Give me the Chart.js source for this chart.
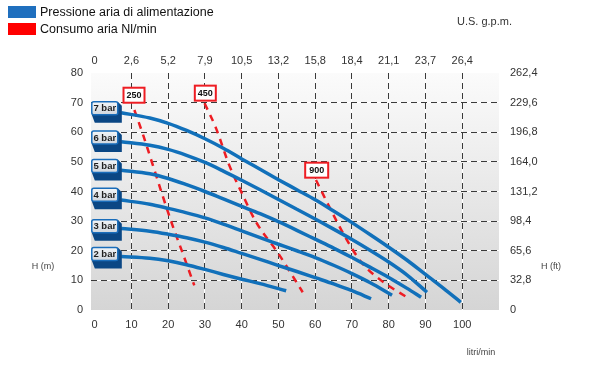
<!DOCTYPE html>
<html>
<head>
<meta charset="utf-8">
<script src="https://cdn.jsdelivr.net/npm/chart.js@4.4.1/dist/chart.umd.min.js"></script>
<style>
  body { margin: 0; background: #fff; }
</style>
</head>
<body>
<canvas id="pumpChart" width="600" height="390"></canvas>
<script>
// axis ticks
const flowTicks = [0, 10, 20, 30, 40, 50, 60, 70, 80, 90, 100];
const gpmLabels = ['0', '2,6', '5,2', '7,9', '10,5', '13,2', '15,8', '18,4', '21,1', '23,7', '26,4'];
const headTicks = [0, 10, 20, 30, 40, 50, 60, 70, 80];
const feetLabels = ['0', '32,8', '65,6', '98,4', '131,2', '164,0', '196,8', '229,6', '262,4'];

// pressure curves (litri/min -> H m)
const bar7Flow = [7.2, 15, 20, 25, 30, 35, 40, 45, 50, 55, 60, 65, 70, 75, 80, 85, 90, 95, 99.6];
const bar7Head = [66.6, 64.8, 63.0, 60.6, 57.8, 54.6, 51.0, 47.5, 44.0, 40.6, 37.2, 33.4, 29.5, 25.4, 21.2, 16.8, 12.0, 7.2, 2.6];
const bar6Flow = [7.2, 15, 20, 25, 30, 35, 40, 45, 50, 55, 60, 65, 70, 75, 80, 85, 90.4];
const bar6Head = [56.8, 55.6, 54.2, 52.2, 49.8, 46.9, 43.8, 40.6, 37.3, 34.0, 30.7, 27.3, 23.8, 20.1, 16.2, 11.8, 6.0];
const bar5Flow = [7.2, 15, 20, 25, 30, 35, 40, 45, 50, 55, 60, 65, 70, 75, 80, 85, 88.8];
const bar5Head = [47.2, 46.0, 44.4, 42.3, 40.0, 37.5, 35.0, 32.5, 29.8, 26.9, 23.9, 20.9, 17.7, 14.4, 11.0, 7.3, 4.3];
const bar4Flow = [7.2, 15, 20, 25, 30, 35, 40, 45, 50, 55, 60, 65, 70, 75, 80.9];
const bar4Head = [37.1, 35.7, 34.3, 32.8, 31.1, 29.0, 26.7, 24.4, 22.2, 20.0, 17.7, 15.1, 12.3, 9.2, 5.0];
const bar3Flow = [7.2, 15, 20, 25, 30, 35, 40, 45, 50, 55, 60, 65, 70, 75.2];
const bar3Head = [27.5, 26.6, 25.6, 24.4, 22.9, 21.1, 19.1, 17.1, 15.0, 13.0, 10.9, 8.8, 6.5, 3.8];
const bar2Flow = [7.2, 15, 20, 25, 30, 35, 40, 45, 52.1];
const bar2Head = [18.1, 17.5, 16.6, 15.3, 13.7, 12.0, 10.4, 8.9, 6.5];

// air consumption curves (Nl/min)
const air250Flow = [10.8, 13.2, 15.8, 18.5, 21.2, 24.0, 27.1];
const air250Head = [67.5, 59.0, 49.0, 38.5, 28.5, 19.0, 8.3];
const air450Flow = [29.9, 33.0, 36.6, 40.3, 43.9, 50.0, 56.6];
const air450Head = [69.8, 61.4, 48.9, 38.8, 29.7, 19.0, 6.0];
const air900Flow = [60.2, 64.3, 68.4, 72.5, 77.9, 85.6];
const air900Head = [43.9, 33.7, 24.1, 16.2, 10.0, 3.8];

// tags
const barNames = ['7 bar', '6 bar', '5 bar', '4 bar', '3 bar', '2 bar'];
const barTagFlow = 2.75;
const barTagHead = [68.1, 58.2, 48.6, 38.9, 28.3, 18.9];
const airNames = ['250', '450', '900'];
const airTagFlow = [10.7, 30.1, 60.4];
const airTagHead = [72.5, 73.2, 47.2];

const BLUE = '#1170ba';
const RED = '#ee1d23';
const FONT = '"Liberation Sans", Arial, sans-serif';

function points(xs, ys) {
    return xs.map((v, i) => ({ x: v, y: ys[i] }));
}

function pressureSet(xs, ys) {
    return {
        data: points(xs, ys),
        showLine: true,
        borderColor: BLUE,
        borderWidth: 3.5,
        pointRadius: 0,
        cubicInterpolationMode: 'monotone',
        borderCapStyle: 'butt'
    };
}

function airSet(xs, ys) {
    return {
        data: points(xs, ys),
        showLine: true,
        borderColor: RED,
        borderWidth: 2.5,
        borderDash: [7, 6],
        pointRadius: 0,
        cubicInterpolationMode: 'monotone'
    };
}

// gradient plot background
const plotBackground = {
    id: 'plotBackground',
    beforeDraw(chart) {
        const { ctx, chartArea: a } = chart;
        const g = ctx.createLinearGradient(0, a.top, 0, a.bottom);
        g.addColorStop(0, '#fbfbfb');
        g.addColorStop(1, '#d5d5d5');
        ctx.save();
        ctx.fillStyle = g;
        ctx.fillRect(a.left, a.top, a.width, a.height);
        ctx.restore();
    }
};

// the 3d "bar" tags and the red air consumption boxes
const tags = {
    id: 'tags',
    afterDatasetsDraw(chart) {
        const { ctx, scales: { x, y } } = chart;
        ctx.save();
        ctx.textAlign = 'center';
        ctx.textBaseline = 'middle';

        barNames.forEach((name, i) => {
            const cx = x.getPixelForValue(barTagFlow);
            const cy = y.getPixelForValue(barTagHead[i]);
            const w = 26, h = 13;
            const x0 = cx - w / 2, y0 = cy - h / 2, x1 = x0 + w, y1 = y0 + h;

            ctx.fillStyle = '#0b4784';
            ctx.beginPath();
            ctx.moveTo(x1, y0);
            ctx.lineTo(x1 + 4, y0 + 4);
            ctx.lineTo(x1 + 4, y1 + 8);
            ctx.lineTo(x0 + 3, y1 + 8);
            ctx.lineTo(x0, y1);
            ctx.closePath();
            ctx.fill();

            const g = ctx.createLinearGradient(0, y0, 0, y1);
            g.addColorStop(0, '#f4f6f8');
            g.addColorStop(1, '#cfd6de');
            ctx.fillStyle = g;
            ctx.strokeStyle = '#1a6dba';
            ctx.lineWidth = 1.5;
            ctx.beginPath();
            ctx.roundRect(x0, y0, w, h, 2);
            ctx.fill();
            ctx.stroke();

            ctx.fillStyle = '#1e1e1e';
            ctx.font = 'bold 9.5px ' + FONT;
            ctx.fillText(name, cx, cy + 0.5);
        });

        airNames.forEach((name, i) => {
            const cx = x.getPixelForValue(airTagFlow[i]);
            const cy = y.getPixelForValue(airTagHead[i]);
            const w = name === '900' ? 23 : 21, h = 15;
            ctx.fillStyle = '#fff';
            ctx.strokeStyle = RED;
            ctx.lineWidth = 2;
            ctx.fillRect(cx - w / 2, cy - h / 2, w, h);
            ctx.strokeRect(cx - w / 2, cy - h / 2, w, h);
            ctx.fillStyle = '#111';
            ctx.font = 'bold 9px ' + FONT;
            ctx.fillText(name, cx, cy + 0.5);
        });
        ctx.restore();
    }
};

// legend and axis titles
const captions = {
    id: 'captions',
    afterDraw(chart) {
        const ctx = chart.ctx;
        ctx.save();
        ctx.fillStyle = '#1f6fbe';
        ctx.fillRect(8, 6, 28, 12);
        ctx.fillStyle = '#ff0000';
        ctx.fillRect(8, 23, 28, 12);

        ctx.fillStyle = '#111';
        ctx.font = '12.5px ' + FONT;
        ctx.textBaseline = 'middle';
        ctx.textAlign = 'left';
        ctx.fillText('Pressione aria di alimentazione', 40, 12.5);
        ctx.fillText('Consumo aria Nl/min', 40, 29.5);

        ctx.fillStyle = '#333';
        ctx.font = '11px ' + FONT;
        ctx.fillText('U.S. g.p.m.', 457, 22);

        ctx.fillStyle = '#444';
        ctx.font = '9px ' + FONT;
        ctx.textAlign = 'center';
        ctx.fillText('H (m)', 43, 267);
        ctx.fillText('H (ft)', 551, 267);
        ctx.fillText('litri/min', 481, 353);
        ctx.restore();
    }
};

const tickFont = { family: FONT, size: 11 };

const ctx = document.getElementById('pumpChart').getContext('2d');
const pumpChart = new Chart(ctx, {
    type: 'scatter',
    data: {
        datasets: [
            pressureSet(bar7Flow, bar7Head),
            pressureSet(bar6Flow, bar6Head),
            pressureSet(bar5Flow, bar5Head),
            pressureSet(bar4Flow, bar4Head),
            pressureSet(bar3Flow, bar3Head),
            pressureSet(bar2Flow, bar2Head),
            airSet(air250Flow, air250Head),
            airSet(air450Flow, air450Head),
            airSet(air900Flow, air900Head)
        ]
    },
    options: {
        responsive: false,
        animation: false,
        devicePixelRatio: 1,
        layout: { padding: 0 },
        plugins: {
            legend: { display: false },
            tooltip: { enabled: false }
        },
        scales: {
            x: {
                type: 'linear',
                position: 'bottom',
                min: -1,
                max: 110,
                afterBuildTicks: s => { s.ticks = flowTicks.map(v => ({ value: v })); },
                afterFit: s => { s.height = 80; },
                ticks: { font: tickFont, color: '#333', padding: 8, autoSkip: false, maxRotation: 0 },
                grid: {
                    drawTicks: false,
                    color: c => (c.tick && c.tick.value >= 10) ? '#ffffff' : 'transparent'
                },
                border: { display: false }
            },
            x2: {
                type: 'linear',
                position: 'top',
                min: -1,
                max: 110,
                afterBuildTicks: s => { s.ticks = flowTicks.map(v => ({ value: v })); },
                afterFit: s => { s.height = 73; },
                ticks: {
                    font: tickFont, color: '#333', padding: 5, autoSkip: false, maxRotation: 0,
                    callback: v => gpmLabels[flowTicks.indexOf(v)]
                },
                grid: {
                    drawTicks: false,
                    color: c => (c.tick && c.tick.value >= 10) ? '#3a3a3a' : 'transparent'
                },
                border: { display: false, dash: [6, 4] }
            },
            y: {
                type: 'linear',
                position: 'left',
                min: 0,
                max: 80,
                afterBuildTicks: s => { s.ticks = headTicks.map(v => ({ value: v })); },
                afterFit: s => { s.width = 91; },
                ticks: { font: tickFont, color: '#333', padding: 8 },
                grid: {
                    drawTicks: false,
                    color: c => (c.tick && c.tick.value >= 10 && c.tick.value <= 70) ? '#ffffff' : 'transparent'
                },
                border: { display: false }
            },
            y2: {
                type: 'linear',
                position: 'right',
                min: 0,
                max: 80,
                afterBuildTicks: s => { s.ticks = headTicks.map(v => ({ value: v })); },
                afterFit: s => { s.width = 101; },
                ticks: {
                    font: tickFont, color: '#333', padding: 11,
                    callback: v => feetLabels[headTicks.indexOf(v)]
                },
                grid: {
                    drawTicks: false,
                    color: c => (c.tick && c.tick.value >= 10 && c.tick.value <= 70) ? '#3a3a3a' : 'transparent'
                },
                border: { display: false, dash: [6, 4] }
            }
        }
    },
    plugins: [plotBackground, tags, captions]
});
</script>
</body>
</html>
